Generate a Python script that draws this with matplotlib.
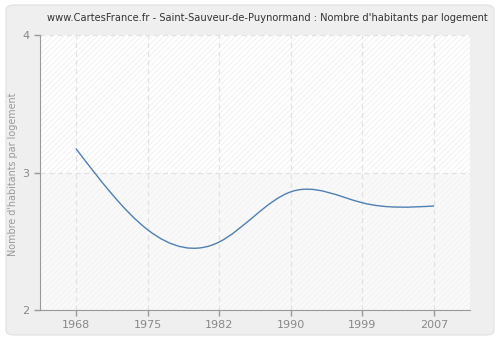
import numpy as np
import matplotlib.pyplot as plt
from matplotlib.path import Path
from matplotlib.patches import PathPatch, FancyBboxPatch, Rectangle

# ============================================================
# DATA
# ============================================================
years = ['1968', '1975', '1982', '1990', '1999', '2007']
values = [3.175, 2.585, 2.495, 2.86, 2.78, 2.757]
yticks = [2, 3, 4]

title = "www.CartesFrance.fr - Saint-Sauveur-de-Puynormand : Nombre d'habitants par logement"
ylabel = "Nombre d'habitants par logement"

# ============================================================
# SMOOTH CURVE (natural cubic spline drawn as bezier segments)
# ============================================================
x = np.arange(len(values), dtype=float)
y = np.array(values, dtype=float)
n = len(y)
A = np.zeros((n, n))
b = np.zeros(n)
A[0, 0] = 1
A[-1, -1] = 1
for i in range(1, n - 1):
    A[i, i - 1], A[i, i], A[i, i + 1] = 1, 4, 1
    b[i] = 6 * (y[i + 1] - 2 * y[i] + y[i - 1])
M = np.linalg.solve(A, b)
m = np.zeros(n)
for i in range(n - 1):
    m[i] = (y[i + 1] - y[i]) - (2 * M[i] + M[i + 1]) / 6
m[-1] = (y[-1] - y[-2]) + (M[-2] + 2 * M[-1]) / 6

verts = [(x[0], y[0])]
codes = [Path.MOVETO]
for i in range(n - 1):
    verts += [(x[i] + 1 / 3, y[i] + m[i] / 3),
              (x[i + 1] - 1 / 3, y[i + 1] - m[i + 1] / 3),
              (x[i + 1], y[i + 1])]
    codes += [Path.CURVE4] * 3

# ============================================================
# FIGURE
# ============================================================
plt.rcParams['hatch.linewidth'] = 0.5
fig = plt.figure(figsize=(5, 3.4), dpi=100)
fig.patch.set_facecolor('white')
fig.patches.append(FancyBboxPatch((0.012, 0.015), 0.976, 0.97,
                                  boxstyle='round,pad=0,rounding_size=0.015',
                                  transform=fig.transFigure, facecolor='#efefef',
                                  edgecolor='#e4e4e4', linewidth=1, zorder=-10))

ax = fig.add_axes([0.08, 0.088, 0.86, 0.809])
ax.set_facecolor('#f9f9f9')
ax.set_xlim(-0.5, 5.5)
ax.set_ylim(2, 4)

# background bands
ax.add_patch(Rectangle((-0.5, 3), 6, 1, facecolor='white', edgecolor='#ececec',
                       hatch='//////', linewidth=0, zorder=0))
ax.add_patch(Rectangle((-0.5, 2), 6, 1, facecolor='#f9f9f9', edgecolor='#f1f1f1',
                       hatch='//////', linewidth=0, zorder=0))

ax.add_patch(PathPatch(Path(verts, codes), facecolor='none', edgecolor='#4f7fb3',
                       linewidth=1.0, zorder=3))

ax.set_xticks(x)
ax.set_xticklabels(years)
ax.set_yticks(yticks)
ax.grid(True, color='#e2e2e2', linestyle=(0, (4, 3)), linewidth=0.9)
ax.set_axisbelow(True)
for s in ['top', 'right']:
    ax.spines[s].set_visible(False)
for s in ['left', 'bottom']:
    ax.spines[s].set_color('#999999')
    ax.spines[s].set_zorder(4)
ax.tick_params(colors='#999999', labelcolor='#888888', labelsize=8, length=4, width=1)

fig.text(13 / 500, 1 - 174 / 340, ylabel, rotation=90, color='#999999',
         fontsize=6.9, ha='center', va='center')
fig.text(267 / 500, 1 - 18 / 340, title, fontsize=7.1, color='#333333',
         ha='center', va='center')

plt.savefig('out.png', dpi=100)
